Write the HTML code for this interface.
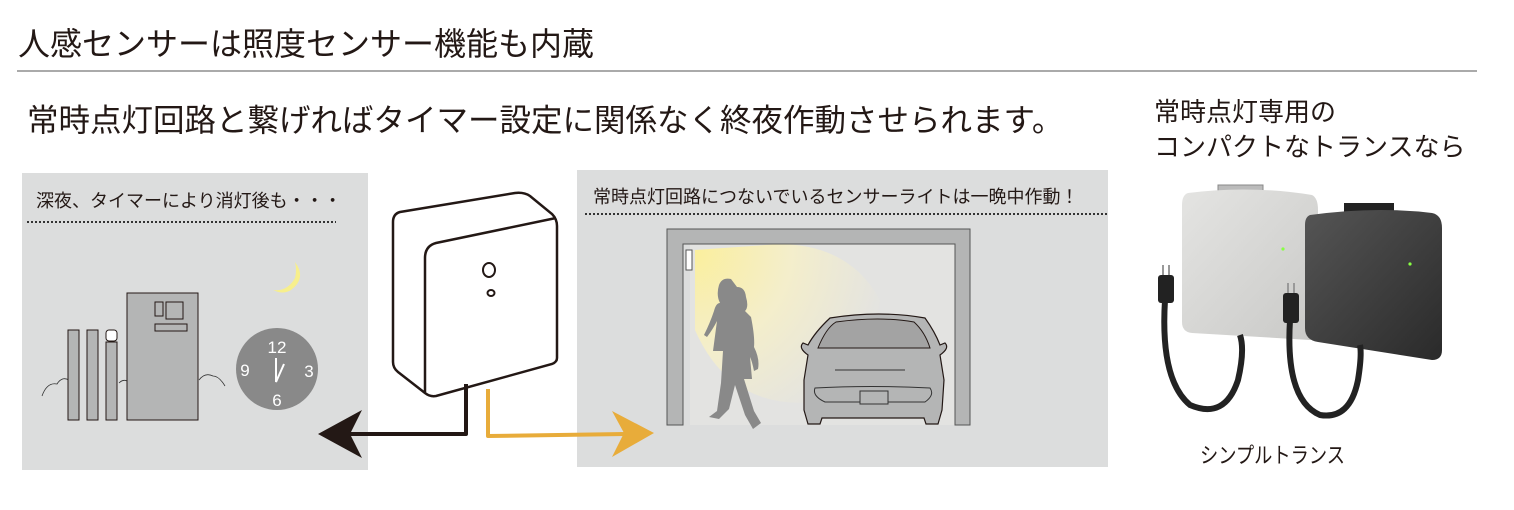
<!DOCTYPE html>
<html><head><meta charset="utf-8"><style>
body{margin:0;width:1514px;height:510px;background:#fff;overflow:hidden;font-family:"Liberation Sans","Noto Sans CJK JP",sans-serif}
svg{position:absolute;left:0;top:0}
text{font-family:"Liberation Sans","Noto Sans CJK JP",sans-serif;fill:#231815}
</style></head><body>
<svg width="1514" height="510" viewBox="0 0 1514 510">
<defs>
<radialGradient id="lg" cx="690" cy="250" r="200" gradientUnits="userSpaceOnUse">
<stop offset="0" stop-color="#fbef9b"/><stop offset="0.5" stop-color="#f4eecb"/><stop offset="1" stop-color="#e3e3e1"/></radialGradient>
<linearGradient id="gb" x1="0" y1="0" x2="1" y2="1"><stop offset="0" stop-color="#e4e4e2"/><stop offset="1" stop-color="#c9c9c7"/></linearGradient>
<linearGradient id="db" x1="0" y1="0" x2="1" y2="1"><stop offset="0" stop-color="#555"/><stop offset="1" stop-color="#2a2a2a"/></linearGradient>
</defs>
<text x="18" y="55" font-size="32">人感センサーは照度センサー機能も内蔵</text>
<line x1="17" y1="71" x2="1477" y2="71" stroke="#555" stroke-width="1"/>
<text x="27" y="131" font-size="31.5">常時点灯回路と繋げればタイマー設定に関係なく終夜作動させられます。</text>
<text x="1154" y="121" font-size="26">常時点灯専用の</text>
<text x="1154" y="156" font-size="26">コンパクトなトランスなら</text>

<!-- left panel -->
<rect x="22" y="173" width="346" height="297" fill="#dcdddd"/>
<text x="36" y="207" font-size="18">深夜、タイマーにより消灯後も・・・</text>
<line x1="27" y1="222" x2="336" y2="222" stroke="#333" stroke-width="2" stroke-dasharray="2,2"/>
<path d="M42,396 q5,-14 15,-12 q5,-8 12,-4 M119,383 q4,-4 8,-2 M199,380 q6,-8 14,-4 q6,0 12,10" fill="none" stroke="#333" stroke-width="0.8"/>
<rect x="68" y="330" width="11" height="90" fill="#b4b5b5" stroke="#231815" stroke-width="1"/>
<rect x="87" y="330" width="11" height="90" fill="#b4b5b5" stroke="#231815" stroke-width="1"/>
<rect x="106" y="342" width="11" height="78" fill="#b4b5b5" stroke="#231815" stroke-width="1"/>
<rect x="106" y="330" width="11" height="11" rx="3" fill="#fff" stroke="#231815" stroke-width="1"/>
<rect x="127" y="293" width="71" height="127" fill="#b4b5b5" stroke="#231815" stroke-width="1"/>
<rect x="155" y="302" width="8" height="14" fill="#b4b5b5" stroke="#231815"/>
<rect x="166" y="302" width="17" height="17" fill="#b4b5b5" stroke="#231815"/>
<rect x="155" y="324" width="32" height="7" fill="#b4b5b5" stroke="#231815"/>
<circle cx="277" cy="369" r="41" fill="#898989"/>
<text x="277" y="353" font-size="17" style="fill:#fff" text-anchor="middle">12</text>
<text x="245" y="376" font-size="17" style="fill:#fff" text-anchor="middle">9</text>
<text x="309" y="377" font-size="17" style="fill:#fff" text-anchor="middle">3</text>
<text x="277" y="406" font-size="17" style="fill:#fff" text-anchor="middle">6</text>
<path d="M276,358 L276,382 L284,364" fill="none" stroke="#fff" stroke-width="2"/>
<path d="M295,262 q12,16 -4,28 q-8,5 -18,0 q14,2 22,-12 q2,-8 0,-16z" fill="#f7ef8c"/>

<!-- right panel -->
<rect x="577" y="170" width="531" height="297" fill="#dcdddd"/>
<text x="593" y="203" font-size="18">常時点灯回路につないでいるセンサーライトは一晩中作動！</text>
<line x1="585" y1="214" x2="1108" y2="214" stroke="#333" stroke-width="2" stroke-dasharray="2,2"/>
<path d="M690,244 L955,244 L955,425 L690,425 Z" fill="#e3e3e1"/>
<path d="M695,250 L695,330 Q730,410 815,402 Q870,385 880,300 Q850,245 780,244 Z" fill="url(#lg)"/>
<path d="M667,229 L970,229 L970,425 L955,425 L955,244 L683,244 L683,425 L667,425 Z" fill="#b4b5b5" stroke="#555" stroke-width="1"/>
<rect x="686" y="250" width="6" height="20" fill="#fff" stroke="#555"/>
<path d="M737,287 q8,0 9,10 q3,10 -1,14 l6,6 q4,20 3,30 q6,12 4,22 l-4,2 q-2,-10 -4,-14 l2,22 l-8,0 l10,32 l7,12 l-8,6 l-8,-14 l-10,-30 l-6,24 l-10,10 l-10,-2 l8,-6 l4,-28 l2,-32 l-10,0 l4,-30 q-4,8 -10,16 l-3,-2 q6,-12 10,-24 q2,-8 6,-8 q-4,-8 -1,-18 q3,-8 12,-6z" fill="#898989"/>
<path d="M830,318 Q880,310 925,318 Q935,332 940,345 L945,343 Q950,348 940,355 L944,380 L942,410 L938,424 L926,424 L924,418 L822,418 L820,424 L808,424 L804,410 L804,380 L808,355 Q798,348 803,343 L808,345 Q815,332 830,318Z" fill="#b4b5b5" stroke="#231815" stroke-width="1.2"/>
<path d="M818,348 Q826,328 836,322 Q880,316 914,322 Q925,332 930,348 Z" fill="#a3a3a3" stroke="#231815" stroke-width="1"/>
<line x1="835" y1="370" x2="905" y2="370" stroke="#333"/>
<path d="M815,388 Q870,385 930,388 Q935,395 925,402 L825,402 Q812,396 815,388Z" fill="none" stroke="#333"/>
<rect x="860" y="391" width="28" height="13" fill="#b4b5b5" stroke="#333"/>

<!-- sensor box -->
<path d="M400,212 L515,193 Q524,192 530,196 L552,214 Q557,219 557,226 L557,358 Q557,362 552,364 L436,396 Q430,397 425,393 L398,372 Q393,368 393,362 L393,222 Q393,214 400,212Z" fill="#fff" stroke="#231815" stroke-width="2.5"/>
<path d="M556,218 L436,243 Q425,246 425,258 L425,392" fill="none" stroke="#231815" stroke-width="2.5"/>
<ellipse cx="489" cy="270" rx="6" ry="7" fill="none" stroke="#231815" stroke-width="2"/>
<ellipse cx="491" cy="293" rx="3.5" ry="3" fill="none" stroke="#231815" stroke-width="2"/>
<path d="M466,384 L466,434 L345,434" fill="none" stroke="#231815" stroke-width="4" stroke-linejoin="round"/>
<path d="M318,434 L362,410 L350,434 L362,458 Z" fill="#231815"/>
<path d="M488,389 L488,436 L625,434" fill="none" stroke="#e8ac3a" stroke-width="4" stroke-linejoin="round"/>
<path d="M654,433 L612,411 L624,433 L612,457 Z" fill="#e8ac3a"/>

<!-- transformers -->
<rect x="1218" y="185" width="45" height="8" fill="#bbb" stroke="#888"/>
<path d="M1188,193 Q1250,185 1312,195 Q1318,198 1318,210 L1318,330 Q1318,340 1310,340 L1192,333 Q1182,332 1182,322 L1182,205 Q1182,195 1188,193Z" fill="url(#gb)"/>
<rect x="1344" y="203" width="50" height="10" fill="#222"/>
<path d="M1310,215 Q1375,206 1432,213 Q1442,215 1442,228 L1442,350 Q1442,360 1432,360 L1318,342 Q1305,340 1305,328 L1305,225 Q1305,217 1310,215Z" fill="url(#db)"/>
<circle cx="1283" cy="249" r="1.6" fill="#8f4"/><circle cx="1410" cy="264" r="1.6" fill="#8f4"/>
<path d="M1165,300 Q1160,380 1190,405 Q1225,420 1238,380 Q1245,350 1240,335" fill="none" stroke="#222" stroke-width="6"/>
<path d="M1290,320 Q1285,400 1320,415 Q1350,420 1358,380 Q1362,355 1360,345" fill="none" stroke="#222" stroke-width="6"/>
<rect x="1158" y="275" width="16" height="28" rx="3" fill="#222"/>
<rect x="1283" y="293" width="16" height="30" rx="3" fill="#222"/>
<path d="M1163,275 v-10 M1169,275 v-10 M1288,293 v-10 M1294,293 v-10" stroke="#999" stroke-width="2"/>
<text x="1200" y="463" font-size="22" textLength="145" lengthAdjust="spacingAndGlyphs">シンプルトランス</text>
</svg>
</body></html>
